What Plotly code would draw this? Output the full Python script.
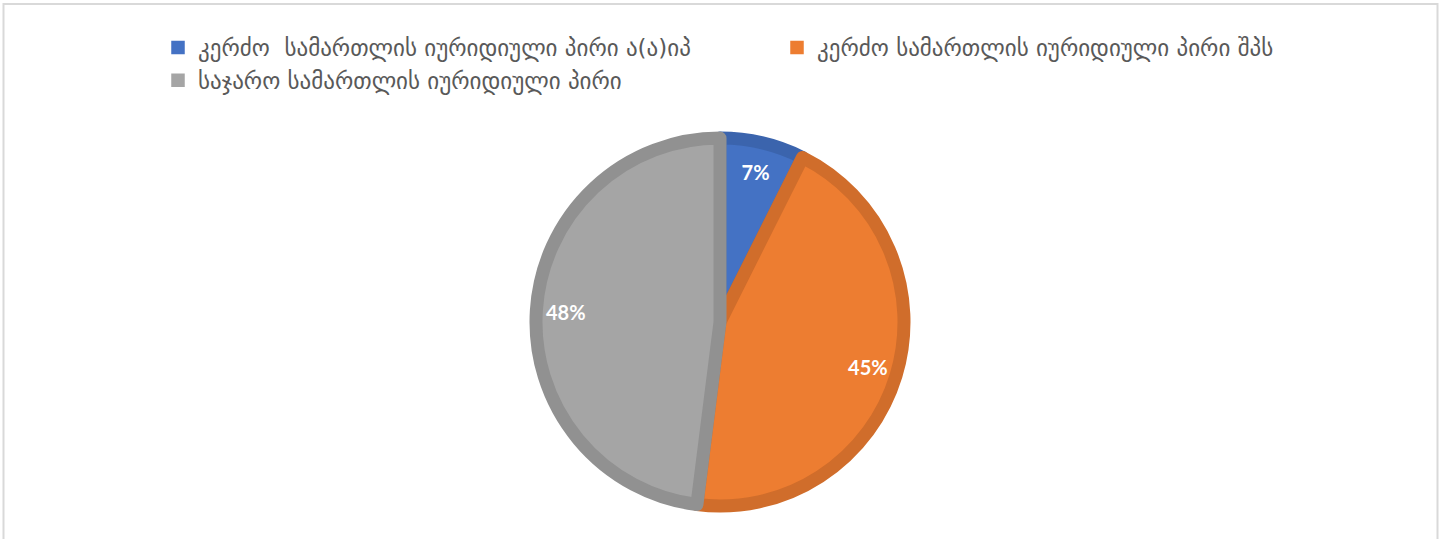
import plotly.graph_objects as go

labels = [
    "კერძო  სამართლის იურიდიული პირი ა(ა)იპ",
    "კერძო სამართლის იურიდიული პირი შპს",
    "საჯარო სამართლის იურიდიული პირი",
]
values = [7.4, 44.6, 48.0]
fill_colors = ["#4472C4", "#ED7D31", "#A5A5A5"]
edge_colors = ["#3B64AD", "#D06D2B", "#919191"]

W, H = 1442, 539
cx, cy, r = 720, 322, 184
domain = dict(x=[(cx - r) / W, (cx + r) / W], y=[(H - cy - r) / H, (H - cy + r) / H])

fig = go.Figure()
# legend carrier (hidden underneath the main pie), solid legend squares
fig.add_trace(go.Pie(
    labels=labels,
    values=values,
    sort=False,
    direction="clockwise",
    rotation=0,
    marker=dict(colors=fill_colors, line=dict(color=fill_colors, width=1.5)),
    textinfo="none",
    domain=domain,
    showlegend=True,
    hoverinfo="skip",
))
# the pie itself, with darker slice edges
fig.add_trace(go.Pie(
    labels=labels,
    values=values,
    sort=False,
    direction="clockwise",
    rotation=0,
    marker=dict(colors=fill_colors, line=dict(color=edge_colors, width=13)),
    textinfo="none",
    domain=domain,
    showlegend=False,
    hoverinfo="label+percent",
))
# percentage labels, placed by the library in the outer ring of the same pie
fig.add_trace(go.Pie(
    labels=labels,
    values=values,
    sort=False,
    direction="clockwise",
    rotation=0,
    hole=0.68,
    marker=dict(colors=["rgba(0,0,0,0)"] * 3, line=dict(width=0)),
    texttemplate="%{percent:.0%}",
    textposition="inside",
    insidetextorientation="horizontal",
    textfont=dict(family="Lato, Open Sans, sans-serif", size=20, color="white", weight="bold"),
    domain=domain,
    showlegend=False,
    hoverinfo="skip",
))

fig.update_layout(
    width=W, height=H,
    margin=dict(l=0, r=0, t=0, b=0),
    paper_bgcolor="white",
    plot_bgcolor="white",
    showlegend=True,
    legend=dict(
        orientation="h",
        x=158 / W, xanchor="left",
        y=1 - 26 / H, yanchor="top",
        entrywidth=574, entrywidthmode="pixels",
        font=dict(family="DejaVu Sans, sans-serif", size=23, color="#595959"),
        traceorder="normal",
    ),
    shapes=[dict(type="rect", xref="paper", yref="paper",
                 x0=3.5 / W, x1=1 - 4.5 / W, y0=-0.01, y1=1 - 4 / H,
                 line=dict(color="#D9D9D9", width=2), fillcolor="rgba(0,0,0,0)", layer="below")],
)

fig.write_html("out.html", config={"displayModeBar": False},
               post_script="document.body.style.margin='0';")
